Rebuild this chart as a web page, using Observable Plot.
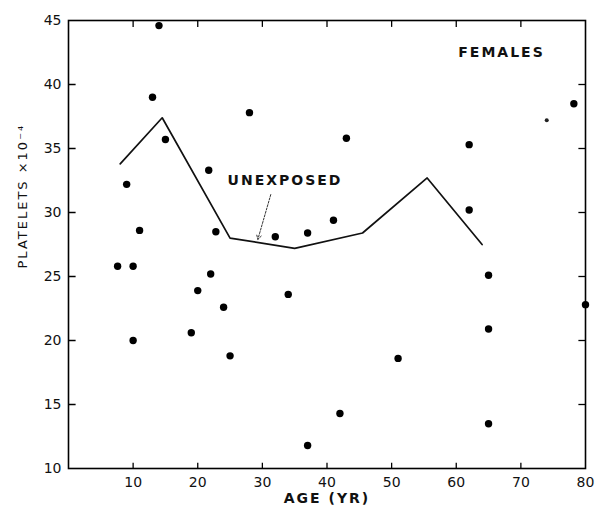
<!DOCTYPE html>
<html><head><meta charset="utf-8">
<script src="https://cdn.jsdelivr.net/npm/d3@7"></script>
<script src="https://cdn.jsdelivr.net/npm/@observablehq/plot@0.6"></script>
<style>body{margin:0;background:#fff} svg{display:block}</style>
</head><body><div id="chart"></div>
<script>
// scatter: individual females
const ages      = [7.6, 9, 10, 10, 11, 13, 14, 15, 19, 20, 21.7, 22, 22.8, 24, 25, 28, 32, 34, 37, 37, 41, 42, 43, 51, 62, 62, 65, 65, 65, 78.2, 80];
const platelets = [25.8, 32.2, 25.8, 20.0, 28.6, 39.0, 44.6, 35.7, 20.6, 23.9, 33.3, 25.2, 28.5, 22.6, 18.8, 37.8, 28.1, 23.6, 28.4, 11.8, 29.4, 14.3, 35.8, 18.6, 35.3, 30.2, 13.5, 25.1, 20.9, 38.5, 22.8];
const faintAges = [74];
const faintValues = [37.2];
// unexposed mean line
const lineAges   = [8, 14.5, 25, 35, 45.5, 55.5, 64];
const lineValues = [33.8, 37.4, 28.0, 27.2, 28.4, 32.7, 27.5];
// ticks
const xTicks = [10, 20, 30, 40, 50, 60, 70, 80];
const yTicks = [10, 15, 20, 25, 30, 35, 40, 45];
// annotations
const labelTexts = ["UNEXPOSED", "FEMALES"];
const labelAges = [33.5, 67];
const labelValues = [32.5, 42.5];
const arrowFrom = [31.3, 31.4];
const arrowTo = [29.3, 27.9];

const dots = ages.map((a, i) => ({age: a, p: platelets[i]}));
const faint = faintAges.map((a, i) => ({age: a, p: faintValues[i]}));
const line = lineAges.map((a, i) => ({age: a, p: lineValues[i]}));
const labels = labelTexts.map((t, i) => ({t, age: labelAges[i], p: labelValues[i]}));
const arrows = [{x1: arrowFrom[0], y1: arrowFrom[1], x2: arrowTo[0], y2: arrowTo[1]}];
const innerY = yTicks.slice(1, -1);
const innerX = xTicks.slice(0, -1);
const [xMin, xMax] = [0, 80];
const [yMin, yMax] = [10, 45];

const font = "DejaVu Sans, sans-serif";
const chart = Plot.plot({
  width: 596, height: 511,
  marginLeft: 68, marginRight: 11, marginTop: 20, marginBottom: 43,
  style: {fontFamily: font, fontSize: "13px", color: "#111", background: "#fff"},
  x: {domain: [xMin, xMax]},
  y: {domain: [yMin, yMax]},
  marks: [
    Plot.frame({stroke: "#000", strokeWidth: 1.6}),
    Plot.axisX({ticks: xTicks, tickSize: 0, tickPadding: 9, label: null, fontSize: 14, fontWeight: 500}),
    Plot.axisY({ticks: yTicks, tickSize: 0, tickPadding: 7, label: null, fontSize: 14, fontWeight: 500}),
    // inward tick marks on all four sides
    Plot.link(innerY, {x1: () => xMin, x2: () => xMin + 1.1, y1: d => d, y2: d => d, stroke: "#000", strokeWidth: 1.5}),
    Plot.link(innerY, {x1: () => xMax - 1.1, x2: () => xMax, y1: d => d, y2: d => d, stroke: "#000", strokeWidth: 1.3}),
    Plot.link(innerX, {x1: d => d, x2: d => d, y1: () => yMin, y2: () => yMin + 0.45, stroke: "#000", strokeWidth: 1.3}),
    Plot.link(innerX, {x1: d => d, x2: d => d, y1: () => yMax - 0.5, y2: () => yMax, stroke: "#000", strokeWidth: 1.3}),
    Plot.line(line, {x: "age", y: "p", stroke: "#111", strokeWidth: 1.7}),
    Plot.dot(dots, {x: "age", y: "p", r: 3.7, fill: "#000", stroke: "none"}),
    Plot.dot(faint, {x: "age", y: "p", r: 2, fill: "#222", stroke: "none"}),
    Plot.arrow(arrows, {x1: "x1", y1: "y1", x2: "x2", y2: "y2", stroke: "#333", strokeWidth: 1, strokeDasharray: "2,1.5", headLength: 7}),
    Plot.text(labels, {x: "age", y: "p", text: "t", fontSize: 14, fontWeight: 600, fill: "#111"}),
    Plot.text(["AGE (YR)"], {frameAnchor: "bottom", dy: 34, fontSize: 14, fontWeight: 600, fill: "#111"}),
    Plot.text(["PLATELETS ×10⁻⁴"], {frameAnchor: "left", dx: -46, dy: 24, rotate: -90, fontSize: 13, fontWeight: 500, fill: "#111"})
  ]
});
chart.querySelectorAll("text").forEach(t => {
  const s = t.textContent;
  if (/[A-Z]/.test(s)) t.setAttribute("letter-spacing", "2");
});
document.getElementById("chart").append(chart);
</script></body></html>
